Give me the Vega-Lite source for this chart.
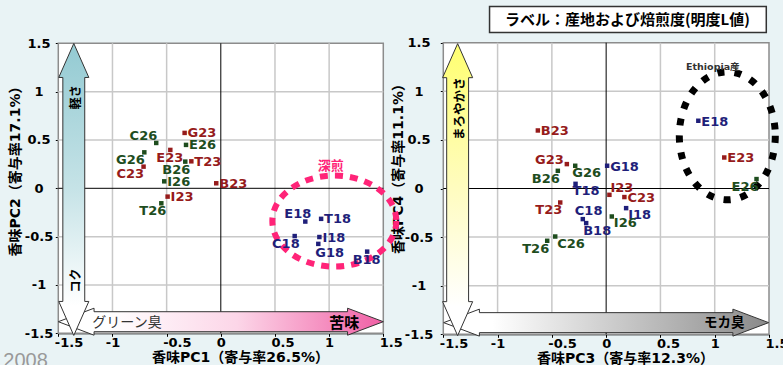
{
 "$schema": "https://vega.github.io/schema/vega-lite/v6.json",
 "width": 783,
 "height": 365,
 "autosize": "none",
 "padding": 0,
 "background": "#e9f3f5",
 "config": {
  "view": {"stroke": null},
  "axis": {
   "labelFont": "DejaVu Sans", "labelFontWeight": "bold", "labelFontSize": 13, "labelColor": "#000",
   "titleFont": "DejaVu Sans, Noto Sans CJK JP", "titleFontWeight": "bold", "titleFontSize": 14, "titleColor": "#000",
   "domainColor": "#000", "domainWidth": 1, "tickColor": "#000", "tickSize": 3, "grid": false,
   "labelFlush": false, "labelOverlap": false, "zindex": 1
  }
 },
 "datasets": {
  "left": [
   {"id": "G23", "L": 23, "x": -0.334, "y": 0.573},
   {"id": "E26", "L": 26, "x": -0.321, "y": 0.449},
   {"id": "C26", "L": 26, "x": -0.596, "y": 0.469},
   {"id": "E23", "L": 23, "x": -0.466, "y": 0.397},
   {"id": "G26", "L": 26, "x": -0.706, "y": 0.372},
   {"id": "T23", "L": 23, "x": -0.272, "y": 0.279},
   {"id": "B26", "L": 26, "x": -0.328, "y": 0.276},
   {"id": "C23", "L": 23, "x": -0.713, "y": 0.224},
   {"id": "B23", "L": 23, "x": -0.042, "y": 0.052},
   {"id": "I26", "L": 26, "x": -0.522, "y": 0.072},
   {"id": "I23", "L": 23, "x": -0.491, "y": -0.086},
   {"id": "T26", "L": 26, "x": -0.549, "y": -0.155},
   {"id": "E18", "L": 18, "x": 0.78, "y": -0.344},
   {"id": "T18", "L": 18, "x": 0.926, "y": -0.316},
   {"id": "C18", "L": 18, "x": 0.682, "y": -0.494},
   {"id": "I18", "L": 18, "x": 0.91, "y": -0.504},
   {"id": "G18", "L": 18, "x": 0.9, "y": -0.575},
   {"id": "B18", "L": 18, "x": 1.351, "y": -0.655}
  ],
  "right": [
   {"id": "B23", "L": 23, "x": -0.629, "y": 0.597},
   {"id": "G23", "L": 23, "x": -0.362, "y": 0.251},
   {"id": "G26", "L": 26, "x": -0.285, "y": 0.234},
   {"id": "B26", "L": 26, "x": -0.445, "y": 0.182},
   {"id": "G18", "L": 18, "x": 0.009, "y": 0.234},
   {"id": "T18", "L": 18, "x": -0.282, "y": 0.048},
   {"id": "I23", "L": 23, "x": 0.03, "y": -0.065},
   {"id": "C23", "L": 23, "x": 0.168, "y": -0.088},
   {"id": "T23", "L": 23, "x": -0.423, "y": -0.144},
   {"id": "I18", "L": 18, "x": 0.184, "y": -0.202},
   {"id": "C18", "L": 18, "x": -0.215, "y": -0.315},
   {"id": "B18", "L": 18, "x": -0.184, "y": -0.356},
   {"id": "I26", "L": 26, "x": 0.052, "y": -0.288},
   {"id": "C26", "L": 26, "x": -0.469, "y": -0.494},
   {"id": "T26", "L": 26, "x": -0.543, "y": -0.538},
   {"id": "E18", "L": 18, "x": 0.849, "y": 0.697},
   {"id": "E23", "L": 23, "x": 1.088, "y": 0.319},
   {"id": "E26", "L": 26, "x": 1.385, "y": 0.097}
  ],
  "grid": [{"v": -1}, {"v": -0.5}, {"v": 0.5}, {"v": 1}],
  "one": [{"k": 1}]
 },
 "layer": [
  {"data": {"name": "one"}, "mark": {"type": "rect", "fill": "#ffffff", "stroke": "#8c8c8c", "strokeWidth": 1.5},
   "encoding": {"x": {"datum": -1.5, "type": "quantitative", "scale": {"domain": [-1.5, 1.5], "range": [58.3, 383.3], "nice": false, "zero": false}, "axis": null}, "x2": {"datum": 1.5},
    "y": {"datum": -1.5, "type": "quantitative", "scale": {"domain": [-1.5, 1.5], "range": [333.3, 43.3], "nice": false, "zero": false}, "axis": null}, "y2": {"datum": 1.5}}},
  {"data": {"name": "grid"}, "mark": {"type": "rule", "color": "#c8c8c8", "strokeWidth": 1.5},
   "encoding": {"x": {"field": "v", "type": "quantitative", "scale": {"domain": [-1.5, 1.5], "range": [58.3, 383.3], "nice": false, "zero": false}, "axis": null},
    "y": {"datum": -1.5, "type": "quantitative", "scale": {"domain": [-1.5, 1.5], "range": [333.3, 43.3], "nice": false, "zero": false}, "axis": null}, "y2": {"datum": 1.5}}},
  {"data": {"name": "grid"}, "mark": {"type": "rule", "color": "#c8c8c8", "strokeWidth": 1.5},
   "encoding": {"y": {"field": "v", "type": "quantitative", "scale": {"domain": [-1.5, 1.5], "range": [333.3, 43.3], "nice": false, "zero": false}, "axis": null},
    "x": {"datum": -1.5, "type": "quantitative", "scale": {"domain": [-1.5, 1.5], "range": [58.3, 383.3], "nice": false, "zero": false}, "axis": null}, "x2": {"datum": 1.5}}},
  {"data": {"name": "one"}, "mark": {"type": "rule", "color": "#000", "strokeWidth": 1},
   "encoding": {"x": {"datum": 0, "type": "quantitative", "scale": {"domain": [-1.5, 1.5], "range": [58.3, 383.3], "nice": false, "zero": false}, "axis": null},
    "y": {"datum": -1.5, "type": "quantitative", "scale": {"domain": [-1.5, 1.5], "range": [333.3, 43.3], "nice": false, "zero": false}, "axis": null}, "y2": {"datum": 1.5}}},
  {"data": {"name": "one"}, "mark": {"type": "rule", "color": "#000", "strokeWidth": 1},
   "encoding": {"y": {"datum": 0, "type": "quantitative", "scale": {"domain": [-1.5, 1.5], "range": [333.3, 43.3], "nice": false, "zero": false}, "axis": null},
    "x": {"datum": -1.5, "type": "quantitative", "scale": {"domain": [-1.5, 1.5], "range": [58.3, 383.3], "nice": false, "zero": false}, "axis": null}, "x2": {"datum": 1.5}}},
  {"data": {"name": "one"},
   "mark": {"type": "point", "shape": "M1,0L0.78,-0.083L0.78,-0.0615L-0.78,-0.0615L-0.78,-0.083L-1,0L-0.78,0.083L-0.78,0.0615L0.78,0.0615L0.78,0.083Z", "size": 105625, "filled": true, "opacity": 1, "stroke": "#333333", "strokeWidth": 1,
    "fill": {"gradient": "linear", "x1": 0, "y1": 0, "x2": 1, "y2": 0, "stops": [{"offset": 0, "color": "#ffffff"}, {"offset": 0.15, "color": "#ffffff"}, {"offset": 0.55, "color": "#fcd6e8"}, {"offset": 1, "color": "#f05fa5"}]}},
   "encoding": {"x": {"datum": 0, "type": "quantitative", "scale": {"domain": [-1.5, 1.5], "range": [58.3, 383.3], "nice": false, "zero": false}, "axis": null},
    "y": {"datum": -1.38, "type": "quantitative", "scale": {"domain": [-1.5, 1.5], "range": [333.3, 43.3], "nice": false, "zero": false}, "axis": null}}},
  {"data": {"name": "one"},
   "mark": {"type": "point", "shape": "M0,-1L0.103,-0.767L0.075,-0.767L0.075,0.767L0.103,0.767L0,1L-0.103,0.767L-0.075,0.767L-0.075,-0.767L-0.103,-0.767Z", "size": 85264, "filled": true, "opacity": 1, "stroke": "#333333", "strokeWidth": 1,
    "fill": {"gradient": "linear", "x1": 0, "y1": 0, "x2": 0, "y2": 1, "stops": [{"offset": 0, "color": "#93cad2"}, {"offset": 0.5, "color": "#c6e3e7"}, {"offset": 0.9, "color": "#ffffff"}, {"offset": 1, "color": "#ffffff"}]}},
   "encoding": {"x": {"datum": -1.357, "type": "quantitative", "scale": {"domain": [-1.5, 1.5], "range": [58.3, 383.3], "nice": false, "zero": false}, "axis": null},
    "y": {"datum": -0.012, "type": "quantitative", "scale": {"domain": [-1.5, 1.5], "range": [333.3, 43.3], "nice": false, "zero": false}, "axis": null}}},
  {"data": {"name": "one"}, "mark": {"type": "text", "text": "軽さ", "angle": 270, "font": "Noto Sans CJK JP", "fontWeight": "bold", "fontSize": 12, "color": "#000"},
   "encoding": {"x": {"datum": -1.339, "type": "quantitative", "scale": {"domain": [-1.5, 1.5], "range": [58.3, 383.3], "nice": false, "zero": false}, "axis": null},
    "y": {"datum": 0.943, "type": "quantitative", "scale": {"domain": [-1.5, 1.5], "range": [333.3, 43.3], "nice": false, "zero": false}, "axis": null}}},
  {"data": {"name": "one"}, "mark": {"type": "text", "text": "コク", "angle": 270, "font": "Noto Sans CJK JP", "fontWeight": "bold", "fontSize": 12, "color": "#000"},
   "encoding": {"x": {"datum": -1.339, "type": "quantitative", "scale": {"domain": [-1.5, 1.5], "range": [58.3, 383.3], "nice": false, "zero": false}, "axis": null},
    "y": {"datum": -0.955, "type": "quantitative", "scale": {"domain": [-1.5, 1.5], "range": [333.3, 43.3], "nice": false, "zero": false}, "axis": null}}},
  {"data": {"name": "one"}, "mark": {"type": "text", "text": "グリーン臭", "font": "Noto Sans CJK JP", "fontSize": 14, "color": "#333333"},
   "encoding": {"x": {"datum": -0.866, "type": "quantitative", "scale": {"domain": [-1.5, 1.5], "range": [58.3, 383.3], "nice": false, "zero": false}, "axis": null},
    "y": {"datum": -1.39, "type": "quantitative", "scale": {"domain": [-1.5, 1.5], "range": [333.3, 43.3], "nice": false, "zero": false}, "axis": null}}},
  {"data": {"name": "one"}, "mark": {"type": "text", "text": "苦味", "font": "Noto Sans CJK JP", "fontWeight": "bold", "fontSize": 15, "color": "#000"},
   "encoding": {"x": {"datum": 1.14, "type": "quantitative", "scale": {"domain": [-1.5, 1.5], "range": [58.3, 383.3], "nice": false, "zero": false}, "axis": null},
    "y": {"datum": -1.39, "type": "quantitative", "scale": {"domain": [-1.5, 1.5], "range": [333.3, 43.3], "nice": false, "zero": false}, "axis": null}}},
  {"data": {"name": "one"},
   "mark": {"type": "point", "shape": "M1,0C1,0.4054,0.5523,0.734,0,0.734C-0.5523,0.734,-1,0.4054,-1,0C-1,-0.4054,-0.5523,-0.734,0,-0.734C0.5523,-0.734,1,-0.4054,1,0Z", "size": 15376, "filled": false, "opacity": 1, "stroke": "#ff2478", "strokeWidth": 6, "strokeDash": [8, 7]},
   "encoding": {"x": {"datum": 1.048, "type": "quantitative", "scale": {"domain": [-1.5, 1.5], "range": [58.3, 383.3], "nice": false, "zero": false}, "axis": null},
    "y": {"datum": -0.339, "type": "quantitative", "scale": {"domain": [-1.5, 1.5], "range": [333.3, 43.3], "nice": false, "zero": false}, "axis": null}}},
  {"data": {"name": "one"}, "mark": {"type": "text", "text": "深煎", "font": "Noto Sans CJK JP", "fontWeight": "bold", "fontSize": 13, "color": "#ff2478"},
   "encoding": {"x": {"datum": 1.016, "type": "quantitative", "scale": {"domain": [-1.5, 1.5], "range": [58.3, 383.3], "nice": false, "zero": false}, "axis": null},
    "y": {"datum": 0.235, "type": "quantitative", "scale": {"domain": [-1.5, 1.5], "range": [333.3, 43.3], "nice": false, "zero": false}, "axis": null}}},
  {"data": {"name": "left"}, "mark": {"type": "point", "shape": "square", "filled": true, "size": 20, "opacity": 1},
   "encoding": {
    "x": {"field": "x", "type": "quantitative", "scale": {"domain": [-1.5, 1.5], "range": [58.3, 383.3], "nice": false, "zero": false},
     "axis": {"orient": "bottom", "offset": -31.7, "values": [-1.5, -1, -0.5, 0, 0.5, 1, 1.5], "labelExpr": "'' + datum.value", "labelPadding": 0,
      "labelAlign": {"condition": {"test": "datum.value % 1 === 0", "value": "center"}, "value": "left"},
      "labelOffset": {"condition": {"test": "datum.value % 1 === 0", "value": 0}, "value": -4},
      "title": "香味PC1（寄与率26.5%）", "titleX": 240, "titleY": 24, "titleBaseline": "middle"}},
    "y": {"field": "y", "type": "quantitative", "scale": {"domain": [-1.5, 1.5], "range": [333.3, 43.3], "nice": false, "zero": false},
     "axis": {"orient": "left", "offset": -58.3, "values": [-1.5, -1, -0.5, 0, 0.5, 1, 1.5], "labelExpr": "'' + datum.value", "labelAlign": "center", "labelPadding": 16.8,
      "title": "香味PC2（寄与率17.1%）", "titleX": -43, "titleY": 167.5, "titleBaseline": "middle", "titleAngle": -90}},
    "color": {"field": "L", "type": "nominal", "scale": {"domain": [18, 23, 26], "range": ["#1f1f7a", "#961b1b", "#1e4d1e"]}, "legend": null}}},
  {"data": {"name": "left"}, "transform": [{"filter": {"field": "id", "oneOf": ["G23", "E26", "T23", "B23", "I26", "I23", "T18", "I18"]}}],
   "mark": {"type": "text", "align": "left", "dx": 3, "dy": 0.5, "font": "DejaVu Sans", "fontWeight": "bold", "fontSize": 13},
   "encoding": {"x": {"field": "x", "type": "quantitative", "scale": {"domain": [-1.5, 1.5], "range": [58.3, 383.3], "nice": false, "zero": false}, "axis": null},
    "y": {"field": "y", "type": "quantitative", "scale": {"domain": [-1.5, 1.5], "range": [333.3, 43.3], "nice": false, "zero": false}, "axis": null}, "text": {"field": "id"}, "color": {"field": "L", "type": "nominal", "legend": null}}},
  {"data": {"name": "left"}, "transform": [{"filter": {"field": "id", "oneOf": ["C23", "G26"]}}],
   "mark": {"type": "text", "align": "right", "dx": 0.5, "dy": 7.5, "font": "DejaVu Sans", "fontWeight": "bold", "fontSize": 13},
   "encoding": {"x": {"field": "x", "type": "quantitative", "scale": {"domain": [-1.5, 1.5], "range": [58.3, 383.3], "nice": false, "zero": false}, "axis": null},
    "y": {"field": "y", "type": "quantitative", "scale": {"domain": [-1.5, 1.5], "range": [333.3, 43.3], "nice": false, "zero": false}, "axis": null}, "text": {"field": "id"}, "color": {"field": "L", "type": "nominal", "legend": null}}},
  {"data": {"name": "left"}, "transform": [{"filter": {"field": "id", "oneOf": ["B26", "T26", "C18"]}}],
   "mark": {"type": "text", "align": "right", "dx": 5, "dy": 8, "font": "DejaVu Sans", "fontWeight": "bold", "fontSize": 13},
   "encoding": {"x": {"field": "x", "type": "quantitative", "scale": {"domain": [-1.5, 1.5], "range": [58.3, 383.3], "nice": false, "zero": false}, "axis": null},
    "y": {"field": "y", "type": "quantitative", "scale": {"domain": [-1.5, 1.5], "range": [333.3, 43.3], "nice": false, "zero": false}, "axis": null}, "text": {"field": "id"}, "color": {"field": "L", "type": "nominal", "legend": null}}},
  {"data": {"name": "left"}, "transform": [{"filter": {"field": "id", "oneOf": ["C26"]}}],
   "mark": {"type": "text", "align": "right", "dx": 1, "dy": -6.5, "font": "DejaVu Sans", "fontWeight": "bold", "fontSize": 13},
   "encoding": {"x": {"field": "x", "type": "quantitative", "scale": {"domain": [-1.5, 1.5], "range": [58.3, 383.3], "nice": false, "zero": false}, "axis": null},
    "y": {"field": "y", "type": "quantitative", "scale": {"domain": [-1.5, 1.5], "range": [333.3, 43.3], "nice": false, "zero": false}, "axis": null}, "text": {"field": "id"}, "color": {"field": "L", "type": "nominal", "legend": null}}},
  {"data": {"name": "left"}, "transform": [{"filter": {"field": "id", "oneOf": ["E18"]}}],
   "mark": {"type": "text", "align": "right", "dx": 6, "dy": -8, "font": "DejaVu Sans", "fontWeight": "bold", "fontSize": 13},
   "encoding": {"x": {"field": "x", "type": "quantitative", "scale": {"domain": [-1.5, 1.5], "range": [58.3, 383.3], "nice": false, "zero": false}, "axis": null},
    "y": {"field": "y", "type": "quantitative", "scale": {"domain": [-1.5, 1.5], "range": [333.3, 43.3], "nice": false, "zero": false}, "axis": null}, "text": {"field": "id"}, "color": {"field": "L", "type": "nominal", "legend": null}}},
  {"data": {"name": "left"}, "transform": [{"filter": {"field": "id", "oneOf": ["E23", "B18"]}}],
   "mark": {"type": "text", "align": "center", "dx": -0.5, "dy": 8, "font": "DejaVu Sans", "fontWeight": "bold", "fontSize": 13},
   "encoding": {"x": {"field": "x", "type": "quantitative", "scale": {"domain": [-1.5, 1.5], "range": [58.3, 383.3], "nice": false, "zero": false}, "axis": null},
    "y": {"field": "y", "type": "quantitative", "scale": {"domain": [-1.5, 1.5], "range": [333.3, 43.3], "nice": false, "zero": false}, "axis": null}, "text": {"field": "id"}, "color": {"field": "L", "type": "nominal", "legend": null}}},
  {"data": {"name": "left"}, "transform": [{"filter": {"field": "id", "oneOf": ["G18"]}}],
   "mark": {"type": "text", "align": "left", "dx": -3, "dy": 9, "font": "DejaVu Sans", "fontWeight": "bold", "fontSize": 13},
   "encoding": {"x": {"field": "x", "type": "quantitative", "scale": {"domain": [-1.5, 1.5], "range": [58.3, 383.3], "nice": false, "zero": false}, "axis": null},
    "y": {"field": "y", "type": "quantitative", "scale": {"domain": [-1.5, 1.5], "range": [333.3, 43.3], "nice": false, "zero": false}, "axis": null}, "text": {"field": "id"}, "color": {"field": "L", "type": "nominal", "legend": null}}},
  {"data": {"name": "one"}, "mark": {"type": "text", "text": "2008", "align": "left", "baseline": "alphabetic", "font": "Liberation Sans", "fontSize": 20, "color": "#999999"},
   "encoding": {"x": {"datum": -2.008, "type": "quantitative", "scale": {"domain": [-1.5, 1.5], "range": [58.3, 383.3], "nice": false, "zero": false}, "axis": null},
    "y": {"datum": -1.844, "type": "quantitative", "scale": {"domain": [-1.5, 1.5], "range": [333.3, 43.3], "nice": false, "zero": false}, "axis": null}}},

  {"data": {"name": "one"}, "mark": {"type": "rect", "fill": "#ffffff", "stroke": "#8c8c8c", "strokeWidth": 1.5},
   "encoding": {"x": {"datum": -1.5, "type": "quantitative", "scale": {"domain": [-1.5, 1.5], "range": [443.3, 769], "nice": false, "zero": false}, "axis": null}, "x2": {"datum": 1.5},
    "y": {"datum": -1.5, "type": "quantitative", "scale": {"domain": [-1.5, 1.5], "range": [334.3, 42.7], "nice": false, "zero": false}, "axis": null}, "y2": {"datum": 1.5}}},
  {"data": {"name": "grid"}, "mark": {"type": "rule", "color": "#c8c8c8", "strokeWidth": 1.5},
   "encoding": {"x": {"field": "v", "type": "quantitative", "scale": {"domain": [-1.5, 1.5], "range": [443.3, 769], "nice": false, "zero": false}, "axis": null},
    "y": {"datum": -1.5, "type": "quantitative", "scale": {"domain": [-1.5, 1.5], "range": [334.3, 42.7], "nice": false, "zero": false}, "axis": null}, "y2": {"datum": 1.5}}},
  {"data": {"name": "grid"}, "mark": {"type": "rule", "color": "#c8c8c8", "strokeWidth": 1.5},
   "encoding": {"y": {"field": "v", "type": "quantitative", "scale": {"domain": [-1.5, 1.5], "range": [334.3, 42.7], "nice": false, "zero": false}, "axis": null},
    "x": {"datum": -1.5, "type": "quantitative", "scale": {"domain": [-1.5, 1.5], "range": [443.3, 769], "nice": false, "zero": false}, "axis": null}, "x2": {"datum": 1.5}}},
  {"data": {"name": "one"}, "mark": {"type": "rule", "color": "#000", "strokeWidth": 1},
   "encoding": {"x": {"datum": 0, "type": "quantitative", "scale": {"domain": [-1.5, 1.5], "range": [443.3, 769], "nice": false, "zero": false}, "axis": null},
    "y": {"datum": -1.5, "type": "quantitative", "scale": {"domain": [-1.5, 1.5], "range": [334.3, 42.7], "nice": false, "zero": false}, "axis": null}, "y2": {"datum": 1.5}}},
  {"data": {"name": "one"}, "mark": {"type": "rule", "color": "#000", "strokeWidth": 1},
   "encoding": {"y": {"datum": 0, "type": "quantitative", "scale": {"domain": [-1.5, 1.5], "range": [334.3, 42.7], "nice": false, "zero": false}, "axis": null},
    "x": {"datum": -1.5, "type": "quantitative", "scale": {"domain": [-1.5, 1.5], "range": [443.3, 769], "nice": false, "zero": false}, "axis": null}, "x2": {"datum": 1.5}}},
  {"data": {"name": "one"},
   "mark": {"type": "point", "shape": "M1,0L0.78,-0.083L0.78,-0.0615L-0.78,-0.0615L-0.78,-0.083L-1,0L-0.78,0.083L-0.78,0.0615L0.78,0.0615L0.78,0.083Z", "size": 105625, "filled": true, "opacity": 1, "stroke": "#333333", "strokeWidth": 1,
    "fill": {"gradient": "linear", "x1": 0, "y1": 0, "x2": 1, "y2": 0, "stops": [{"offset": 0, "color": "#ffffff"}, {"offset": 0.15, "color": "#ffffff"}, {"offset": 1, "color": "#8a8a8a"}]}},
   "encoding": {"x": {"datum": 0, "type": "quantitative", "scale": {"domain": [-1.5, 1.5], "range": [443.3, 769], "nice": false, "zero": false}, "axis": null},
    "y": {"datum": -1.38, "type": "quantitative", "scale": {"domain": [-1.5, 1.5], "range": [334.3, 42.7], "nice": false, "zero": false}, "axis": null}}},
  {"data": {"name": "one"},
   "mark": {"type": "point", "shape": "M0,-1L0.103,-0.767L0.075,-0.767L0.075,0.767L0.103,0.767L0,1L-0.103,0.767L-0.075,0.767L-0.075,-0.767L-0.103,-0.767Z", "size": 85264, "filled": true, "opacity": 1, "stroke": "#333333", "strokeWidth": 1,
    "fill": {"gradient": "linear", "x1": 0, "y1": 0, "x2": 0, "y2": 1, "stops": [{"offset": 0, "color": "#ffff70"}, {"offset": 0.5, "color": "#fffcc0"}, {"offset": 0.9, "color": "#ffffff"}, {"offset": 1, "color": "#ffffff"}]}},
   "encoding": {"x": {"datum": -1.368, "type": "quantitative", "scale": {"domain": [-1.5, 1.5], "range": [443.3, 769], "nice": false, "zero": false}, "axis": null},
    "y": {"datum": -0.012, "type": "quantitative", "scale": {"domain": [-1.5, 1.5], "range": [334.3, 42.7], "nice": false, "zero": false}, "axis": null}}},
  {"data": {"name": "one"}, "mark": {"type": "text", "text": "まろやかさ", "angle": 270, "font": "Noto Sans CJK JP", "fontWeight": "bold", "fontSize": 12.5, "color": "#000"},
   "encoding": {"x": {"datum": -1.345, "type": "quantitative", "scale": {"domain": [-1.5, 1.5], "range": [443.3, 769], "nice": false, "zero": false}, "axis": null},
    "y": {"datum": 0.82, "type": "quantitative", "scale": {"domain": [-1.5, 1.5], "range": [334.3, 42.7], "nice": false, "zero": false}, "axis": null}}},
  {"data": {"name": "one"}, "mark": {"type": "text", "text": "モカ臭", "font": "Noto Sans CJK JP", "fontWeight": "bold", "fontSize": 13.5, "color": "#000"},
   "encoding": {"x": {"datum": 1.088, "type": "quantitative", "scale": {"domain": [-1.5, 1.5], "range": [443.3, 769], "nice": false, "zero": false}, "axis": null},
    "y": {"datum": -1.38, "type": "quantitative", "scale": {"domain": [-1.5, 1.5], "range": [334.3, 42.7], "nice": false, "zero": false}, "axis": null}}},
  {"data": {"name": "one"},
   "mark": {"type": "point", "shape": "M0.75,0C0.75,0.5523,0.414,1,0,1C-0.414,1,-0.75,0.5523,-0.75,0C-0.75,-0.5523,-0.414,-1,0,-1C0.414,-1,0.75,-0.5523,0.75,0Z", "size": 16384, "filled": false, "opacity": 1, "stroke": "#000000", "strokeWidth": 7, "strokeDash": [7, 10]},
   "encoding": {"x": {"datum": 1.116, "type": "quantitative", "scale": {"domain": [-1.5, 1.5], "range": [443.3, 769], "nice": false, "zero": false}, "axis": null},
    "y": {"datum": 0.542, "type": "quantitative", "scale": {"domain": [-1.5, 1.5], "range": [334.3, 42.7], "nice": false, "zero": false}, "axis": null}}},
  {"data": {"name": "one"}, "mark": {"type": "text", "text": "Ethiopia産", "align": "left", "font": "DejaVu Sans, Noto Sans CJK JP", "fontWeight": "bold", "fontSize": 9.5, "color": "#333333"},
   "encoding": {"x": {"datum": 0.736, "type": "quantitative", "scale": {"domain": [-1.5, 1.5], "range": [443.3, 769], "nice": false, "zero": false}, "axis": null},
    "y": {"datum": 1.255, "type": "quantitative", "scale": {"domain": [-1.5, 1.5], "range": [334.3, 42.7], "nice": false, "zero": false}, "axis": null}}},
  {"data": {"name": "one"}, "mark": {"type": "rect", "fill": "#ffffff", "stroke": "#333333", "strokeWidth": 1.5},
   "encoding": {"x": {"datum": -1.074, "type": "quantitative", "scale": {"domain": [-1.5, 1.5], "range": [443.3, 769], "nice": false, "zero": false}, "axis": null}, "x2": {"datum": 1.475},
    "y": {"datum": 1.605, "type": "quantitative", "scale": {"domain": [-1.5, 1.5], "range": [334.3, 42.7], "nice": false, "zero": false}, "axis": null}, "y2": {"datum": 1.872}}},
  {"data": {"name": "one"}, "mark": {"type": "text", "text": "ラベル：産地および焙煎度(明度L値)", "font": "Noto Sans CJK JP", "fontWeight": "bold", "fontSize": 15, "color": "#000"},
   "encoding": {"x": {"datum": 0.196, "type": "quantitative", "scale": {"domain": [-1.5, 1.5], "range": [443.3, 769], "nice": false, "zero": false}, "axis": null},
    "y": {"datum": 1.736, "type": "quantitative", "scale": {"domain": [-1.5, 1.5], "range": [334.3, 42.7], "nice": false, "zero": false}, "axis": null}}},
  {"data": {"name": "right"}, "mark": {"type": "point", "shape": "square", "filled": true, "size": 20, "opacity": 1},
   "encoding": {
    "x": {"field": "x", "type": "quantitative", "scale": {"domain": [-1.5, 1.5], "range": [443.3, 769], "nice": false, "zero": false},
     "axis": {"orient": "bottom", "offset": -30.7, "values": [-1.5, -1, -0.5, 0, 0.5, 1, 1.5], "labelExpr": "'' + datum.value", "labelPadding": 0,
      "labelAlign": {"condition": {"test": "datum.value % 1 === 0", "value": "center"}, "value": "left"},
      "labelOffset": {"condition": {"test": "datum.value % 1 === 0", "value": 0}, "value": -4},
      "title": "香味PC3（寄与率12.3%）", "titleX": 625, "titleY": 24, "titleBaseline": "middle"}},
    "y": {"field": "y", "type": "quantitative", "scale": {"domain": [-1.5, 1.5], "range": [334.3, 42.7], "nice": false, "zero": false},
     "axis": {"orient": "left", "offset": -443.3, "values": [-1.5, -1, -0.5, 0, 0.5, 1, 1.5], "labelExpr": "'' + datum.value", "labelAlign": "center", "labelPadding": 21.8,
      "title": "香味PC4（寄与率11.1%）", "titleX": -45.3, "titleY": 165, "titleBaseline": "middle", "titleAngle": -90}},
    "color": {"field": "L", "type": "nominal", "legend": null}}},
  {"data": {"name": "right"}, "transform": [{"filter": {"field": "id", "oneOf": ["B23", "G18", "C23", "E18", "E23"]}}],
   "mark": {"type": "text", "align": "left", "dx": 3, "dy": 1, "font": "DejaVu Sans", "fontWeight": "bold", "fontSize": 13},
   "encoding": {"x": {"field": "x", "type": "quantitative", "scale": {"domain": [-1.5, 1.5], "range": [443.3, 769], "nice": false, "zero": false}, "axis": null},
    "y": {"field": "y", "type": "quantitative", "scale": {"domain": [-1.5, 1.5], "range": [334.3, 42.7], "nice": false, "zero": false}, "axis": null}, "text": {"field": "id"}, "color": {"field": "L", "type": "nominal", "legend": null}}},
  {"data": {"name": "right"}, "transform": [{"filter": {"field": "id", "oneOf": ["B26", "T23", "T26", "E26"]}}],
   "mark": {"type": "text", "align": "right", "dx": 2, "dy": 8, "font": "DejaVu Sans", "fontWeight": "bold", "fontSize": 13},
   "encoding": {"x": {"field": "x", "type": "quantitative", "scale": {"domain": [-1.5, 1.5], "range": [443.3, 769], "nice": false, "zero": false}, "axis": null},
    "y": {"field": "y", "type": "quantitative", "scale": {"domain": [-1.5, 1.5], "range": [334.3, 42.7], "nice": false, "zero": false}, "axis": null}, "text": {"field": "id"}, "color": {"field": "L", "type": "nominal", "legend": null}}},
  {"data": {"name": "right"}, "transform": [{"filter": {"field": "id", "oneOf": ["G23"]}}],
   "mark": {"type": "text", "align": "right", "dx": -3, "dy": -4, "font": "DejaVu Sans", "fontWeight": "bold", "fontSize": 13},
   "encoding": {"x": {"field": "x", "type": "quantitative", "scale": {"domain": [-1.5, 1.5], "range": [443.3, 769], "nice": false, "zero": false}, "axis": null},
    "y": {"field": "y", "type": "quantitative", "scale": {"domain": [-1.5, 1.5], "range": [334.3, 42.7], "nice": false, "zero": false}, "axis": null}, "text": {"field": "id"}, "color": {"field": "L", "type": "nominal", "legend": null}}},
  {"data": {"name": "right"}, "transform": [{"filter": {"field": "id", "oneOf": ["G26", "T18", "B18"]}}],
   "mark": {"type": "text", "align": "left", "dx": -3, "dy": 7.5, "font": "DejaVu Sans", "fontWeight": "bold", "fontSize": 13},
   "encoding": {"x": {"field": "x", "type": "quantitative", "scale": {"domain": [-1.5, 1.5], "range": [443.3, 769], "nice": false, "zero": false}, "axis": null},
    "y": {"field": "y", "type": "quantitative", "scale": {"domain": [-1.5, 1.5], "range": [334.3, 42.7], "nice": false, "zero": false}, "axis": null}, "text": {"field": "id"}, "color": {"field": "L", "type": "nominal", "legend": null}}},
  {"data": {"name": "right"}, "transform": [{"filter": {"field": "id", "oneOf": ["I26", "C26", "I18"]}}],
   "mark": {"type": "text", "align": "left", "dx": 2, "dy": 7, "font": "DejaVu Sans", "fontWeight": "bold", "fontSize": 13},
   "encoding": {"x": {"field": "x", "type": "quantitative", "scale": {"domain": [-1.5, 1.5], "range": [443.3, 769], "nice": false, "zero": false}, "axis": null},
    "y": {"field": "y", "type": "quantitative", "scale": {"domain": [-1.5, 1.5], "range": [334.3, 42.7], "nice": false, "zero": false}, "axis": null}, "text": {"field": "id"}, "color": {"field": "L", "type": "nominal", "legend": null}}},
  {"data": {"name": "right"}, "transform": [{"filter": {"field": "id", "oneOf": ["I23"]}}],
   "mark": {"type": "text", "align": "left", "dx": 1, "dy": -7, "font": "DejaVu Sans", "fontWeight": "bold", "fontSize": 13},
   "encoding": {"x": {"field": "x", "type": "quantitative", "scale": {"domain": [-1.5, 1.5], "range": [443.3, 769], "nice": false, "zero": false}, "axis": null},
    "y": {"field": "y", "type": "quantitative", "scale": {"domain": [-1.5, 1.5], "range": [334.3, 42.7], "nice": false, "zero": false}, "axis": null}, "text": {"field": "id"}, "color": {"field": "L", "type": "nominal", "legend": null}}},
  {"data": {"name": "right"}, "transform": [{"filter": {"field": "id", "oneOf": ["C18"]}}],
   "mark": {"type": "text", "align": "left", "dx": -8, "dy": -8, "font": "DejaVu Sans", "fontWeight": "bold", "fontSize": 13},
   "encoding": {"x": {"field": "x", "type": "quantitative", "scale": {"domain": [-1.5, 1.5], "range": [443.3, 769], "nice": false, "zero": false}, "axis": null},
    "y": {"field": "y", "type": "quantitative", "scale": {"domain": [-1.5, 1.5], "range": [334.3, 42.7], "nice": false, "zero": false}, "axis": null}, "text": {"field": "id"}, "color": {"field": "L", "type": "nominal", "legend": null}}}
 ],
 "resolve": {"scale": {"x": "independent", "y": "independent"}}
}
